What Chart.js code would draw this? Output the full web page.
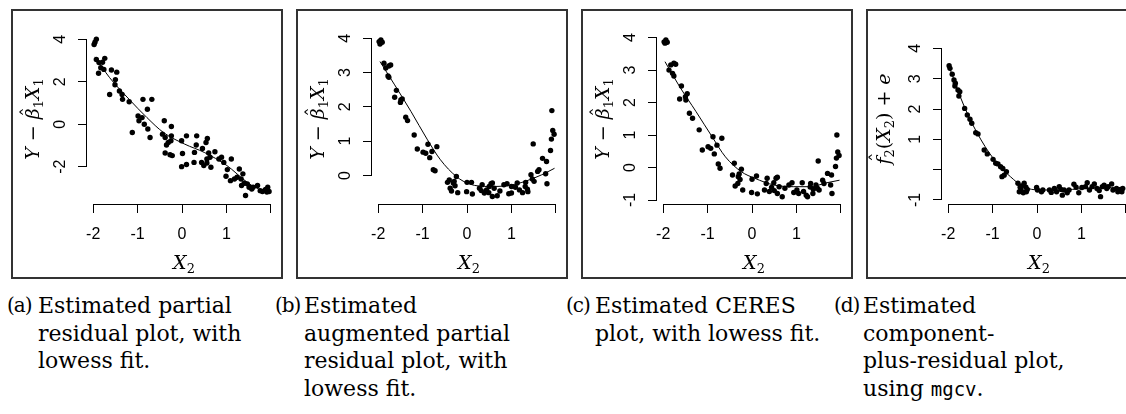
<!DOCTYPE html>
<html>
<head>
<meta charset="utf-8">
<script src="https://cdn.jsdelivr.net/npm/chart.js@4.4.0/dist/chart.umd.min.js"></script>
<style>
body { margin: 0; width: 1126px; height: 414px; overflow: hidden; background: #fff; position: relative; }
.panel { position: absolute; top: 9px; width: 272px; height: 270px; }
.panel canvas { position: absolute; left: 0; top: 0; }
.frame { position: absolute; left: 0; top: 0; width: 272px; height: 270px; border: 2px solid #333; box-sizing: border-box; pointer-events: none; }
.ytitle, .xtitle { position: absolute; font-family: "DejaVu Serif"; font-size: 19px; white-space: nowrap; color: #000; }
.ytitle { transform: translate(-50%, -50%) rotate(-90deg); }
.xtitle { transform: translate(-50%, -50%); }
.ytitle sub, .xtitle sub { font-size: 13px; vertical-align: -4px; line-height: 0; font-style: normal; }
.hat { position: relative; display: inline-block; }
.hat::after { content: "\02C6"; position: absolute; left: 50%; top: -0.12em; transform: translateX(-30%); font-style: normal; line-height: 1; }
.hat.tall::after { top: -0.22em; transform: translateX(-10%); }
.cap { position: absolute; top: 292px; font-family: "DejaVu Serif"; font-size: 22px; line-height: 27.7px; white-space: nowrap; color: #000; }
.lab { font-size: 20px; letter-spacing: -1px; }
.tt { font-family: "DejaVu Sans Mono"; font-size: 19px; }
</style>
</head>
<body>

<div class="panel" style="left:11px"><canvas id="pa" width="272" height="270"></canvas><div class="frame"></div>
  <div class="ytitle" style="left:21px;top:110px"><i>Y</i> − <i class="hat">β</i><sub>1</sub><i>X</i><sub>1</sub></div>
  <div class="xtitle" style="left:173px;top:253px"><i>X</i><sub>2</sub></div>
</div>
<div class="panel" style="left:296px"><canvas id="pb" width="272" height="270"></canvas><div class="frame"></div>
  <div class="ytitle" style="left:21px;top:110px"><i>Y</i> − <i class="hat">β</i><sub>1</sub><i>X</i><sub>1</sub></div>
  <div class="xtitle" style="left:173px;top:253px"><i>X</i><sub>2</sub></div>
</div>
<div class="panel" style="left:581px"><canvas id="pc" width="272" height="270"></canvas><div class="frame"></div>
  <div class="ytitle" style="left:21px;top:110px"><i>Y</i> − <i class="hat">β</i><sub>1</sub><i>X</i><sub>1</sub></div>
  <div class="xtitle" style="left:173px;top:253px"><i>X</i><sub>2</sub></div>
</div>
<div class="panel" style="left:866px"><canvas id="pd" width="272" height="270"></canvas><div class="frame"></div>
  <div class="ytitle" style="left:17px;top:110px"><i class="hat tall">f</i><sub>2</sub>(<i>X</i><sub>2</sub>) + <i>e</i></div>
  <div class="xtitle" style="left:173px;top:253px"><i>X</i><sub>2</sub></div>
</div>

<div class="cap lab" style="left:7px">(a)</div>
<div class="cap" style="left:38px">Estimated partial<br>residual plot, with<br>lowess fit.</div>
<div class="cap lab" style="left:275px">(b)</div>
<div class="cap" style="left:304px">Estimated<br>augmented partial<br>residual plot, with<br>lowess fit.</div>
<div class="cap lab" style="left:566px">(c)</div>
<div class="cap" style="left:595px">Estimated CERES<br>plot, with lowess fit.</div>
<div class="cap lab" style="left:834px">(d)</div>
<div class="cap" style="left:863px">Estimated<br>component-<br>plus-residual plot,<br>using <span class="tt">mgcv</span>.</div>

<script>
// shared x axis
var xTicks = [-2, -1, 0, 1, 2];
var xTickLabels = ["-2", "-1", "0", "1", ""];

// (a) partial residuals
var aX = [-1.98,-1.96,-1.93,-1.93,-1.87,-1.88,-1.83,-1.79,-1.76,-1.74,
  -1.59,-1.47,-1.50,-1.51,-1.63,-1.41,-1.35,-1.34,-1.19,
  -0.88,-0.68,-0.78,-0.99,-0.97,-0.90,-0.85,-0.77,-0.72,-1.12,
  -0.40,-0.24,-0.44,-0.38,-0.35,-0.31,-0.24,-0.38,-0.27,-0.22,-0.25,
  -0.01,0.10,0.01,-0.01,0.10,0.28,0.33,0.32,0.27,
  0.44,0.46,0.49,0.54,0.57,0.60,0.56,0.63,0.65,0.56,
  0.74,0.83,0.89,0.94,1.11,0.99,1.02,1.09,1.18,1.24,1.29,1.33,1.34,1.37,1.40,1.43,
  1.47,1.51,1.57,1.60,1.70,1.76,1.81,1.88,1.93,1.96,1.91];
var aY = [3.75,3.86,4.00,3.05,2.90,2.40,2.66,2.92,2.58,3.10,
  2.55,2.45,2.10,1.86,1.40,1.56,1.40,1.17,1.06,
  1.17,1.17,0.70,0.39,0.16,0.31,0.00,-0.23,-0.63,-0.39,
  0.16,-0.11,-0.47,-0.63,-0.98,-0.86,-0.55,-1.36,-1.44,-1.48,-0.78,
  -0.78,-0.55,-1.38,-2.00,-1.90,-1.33,-0.55,-0.98,-1.80,
  -1.80,-1.14,-1.95,-0.86,-0.67,-1.36,-1.64,-1.56,-2.03,-1.83,
  -1.30,-1.64,-1.56,-1.80,-1.64,-2.45,-2.14,-2.66,-2.58,-2.50,-2.11,-2.58,-2.89,-2.34,-2.78,-3.36,
  -2.81,-2.97,-3.05,-2.97,-2.89,-3.13,-3.17,-3.08,-2.97,-3.17,-3.20];
var aFitX = [-1.96,-1.63,-1.19,-0.79,-0.42,0.06,0.50,1.01,1.42,1.64,1.97];
var aFitY = [3.17,2.19,1.17,0.31,-0.39,-0.94,-1.33,-1.95,-2.66,-2.97,-3.20];
var aYTicks = [-2, 0, 2, 4];
var aYTickLabels = ["-2", "0", "2", "4"];

// (b) augmented partial residuals
var bX = [-1.98,-1.94,-1.91,-1.96,
  -1.87,-1.83,-1.76,-1.72,-1.78,-1.76,
  -1.59,-1.63,-1.49,-1.46,-1.50,-1.38,-1.34,-1.19,
  -1.12,-0.99,-0.93,-0.88,-0.84,-0.79,-0.68,-0.76,-0.72,
  -0.40,-0.44,-0.38,-0.31,-0.27,-0.24,-0.35,-0.21,-0.29,
  0.00,0.10,-0.01,0.12,0.28,0.34,0.32,0.39,0.44,0.50,0.49,0.54,0.57,0.61,0.57,0.68,0.74,
  0.83,0.90,0.94,1.00,1.00,1.09,1.13,1.18,1.25,1.31,1.32,1.37,1.36,
  1.44,1.47,1.51,1.49,1.59,1.62,1.70,1.79,1.80,1.77,1.88,1.90,1.93,1.96,1.91];
var bY = [3.90,3.95,3.88,3.83,
  3.27,3.13,3.19,3.22,2.90,2.86,
  2.48,2.28,2.20,2.23,2.13,1.70,1.60,1.18,
  0.77,0.68,0.65,0.91,0.52,0.70,0.84,0.17,0.14,
  -0.13,-0.20,-0.37,-0.22,-0.30,-0.03,-0.45,-0.50,-0.17,
  -0.20,-0.20,-0.47,-0.54,-0.37,-0.27,-0.44,-0.51,-0.42,-0.32,-0.50,-0.24,-0.22,-0.37,-0.61,-0.59,-0.45,
  -0.27,-0.24,-0.53,-0.32,-0.51,-0.34,-0.22,-0.42,-0.50,-0.32,-0.20,-0.47,-0.40,
  0.02,-0.10,-0.17,0.92,0.12,0.17,0.50,0.41,-0.24,0.05,0.73,1.06,1.31,1.20,1.89];
var bFitX = [-1.96,-1.63,-1.26,-0.90,-0.60,-0.24,0.06,0.50,0.94,1.31,1.68,1.97];
var bFitY = [3.32,2.64,1.86,1.06,0.46,-0.03,-0.25,-0.32,-0.29,-0.17,0.02,0.21];
var bYTicks = [0, 1, 2, 3, 4];
var bYTickLabels = ["0", "1", "2", "3", "4"];

// (c) CERES
var cX = [-1.98,-1.94,-1.91,-1.96,
  -1.87,-1.83,-1.76,-1.72,-1.79,-1.76,
  -1.59,-1.63,-1.49,-1.46,-1.50,-1.41,-1.34,-1.19,
  -1.12,-0.99,-0.93,-0.88,-0.85,-0.79,-0.68,-0.76,-0.72,
  -0.40,-0.44,-0.38,-0.31,-0.27,-0.24,-0.32,-0.21,-0.29,
  0.00,0.10,-0.01,0.12,0.28,0.34,0.32,0.39,0.44,0.50,0.49,0.54,0.57,0.61,0.57,0.68,0.74,
  0.83,0.90,0.94,1.01,1.05,1.13,1.16,1.22,1.25,1.31,1.32,1.37,1.38,
  1.44,1.47,1.51,1.49,1.59,1.62,1.70,1.79,1.80,1.77,1.88,1.90,1.93,1.96,1.91];
var cY = [3.87,3.93,3.86,3.83,
  3.00,3.16,3.21,3.18,2.90,2.82,
  2.51,2.11,2.08,2.27,2.18,1.67,1.52,1.16,
  0.54,0.64,0.59,0.95,0.42,0.69,0.90,0.11,-0.02,
  0.13,-0.23,-0.57,-0.28,-0.37,-0.05,-0.49,-0.69,-0.20,
  -0.36,-0.26,-0.77,-0.81,-0.69,-0.33,-0.49,-0.74,-0.61,-0.71,-0.47,-0.33,-0.30,-0.59,-0.80,-0.90,-0.64,
  -0.54,-0.47,-0.77,-0.69,-0.80,-0.47,-0.74,-0.85,-0.90,-0.60,-0.49,-0.80,-0.67,
  -0.54,-0.64,-0.69,0.20,-0.39,-0.49,-0.18,-0.23,-0.80,-0.54,0.03,0.29,0.48,0.37,1.00];
var cFitX = [-1.96,-1.63,-1.26,-0.90,-0.60,-0.24,0.06,0.50,0.94,1.31,1.68,1.97];
var cFitY = [3.26,2.49,1.72,0.95,0.33,-0.13,-0.33,-0.54,-0.59,-0.59,-0.47,-0.39];
var cYTicks = [-1, 0, 1, 2, 3, 4];
var cYTickLabels = ["-1", "0", "1", "2", "3", "4"];

// (d) component plus residual, gam smooth
var dX = [-1.98,-1.96,-1.91,-1.87,-1.84,-1.85,-1.78,-1.74,-1.76,-1.63,-1.57,-1.51,-1.47,-1.38,-1.33,
  -1.19,-1.12,-0.99,-0.93,-0.88,-0.82,-0.77,-0.74,-0.69,-0.79,
  -0.43,-0.38,-0.35,-0.29,-0.25,-0.24,-0.40,-0.31,-0.22,-0.36,
  -0.01,0.01,0.10,0.13,0.28,0.32,0.39,0.44,0.50,0.54,0.57,0.61,0.68,0.72,
  0.83,0.88,0.94,1.01,1.09,1.13,1.18,1.24,1.29,1.35,1.40,1.43,1.47,1.51,1.57,1.60,1.68,1.71,1.79,1.82,1.88,1.91,1.93];
var dY = [3.43,3.34,3.15,2.96,2.85,2.76,2.63,2.57,2.43,2.02,1.80,1.66,1.53,1.22,1.18,
  0.65,0.52,0.34,0.21,0.19,0.10,0.04,-0.18,-0.07,-0.23,
  -0.45,-0.58,-0.54,-0.45,-0.58,-0.73,-0.73,-0.76,-0.65,-0.67,
  -0.59,-0.67,-0.73,-0.67,-0.67,-0.75,-0.62,-0.73,-0.56,-0.65,-0.84,-0.67,-0.76,-0.67,
  -0.48,-0.58,-0.76,-0.59,-0.56,-0.43,-0.67,-0.56,-0.47,-0.62,-0.69,-0.89,-0.56,-0.51,-0.62,-0.56,-0.47,-0.67,-0.62,-0.73,-0.65,-0.73,-0.62];
var dFitX = [-1.98,-1.63,-1.26,-0.90,-0.60,-0.31,0.06,0.50,1.09,1.68,1.97];
var dFitY = [3.40,2.05,0.98,0.21,-0.23,-0.56,-0.67,-0.67,-0.62,-0.58,-0.62];
var dYTicks = [-1, 0, 1, 2, 3, 4];
var dYTickLabels = ["-1", "", "1", "2", "3", "4"];

function toPoints(xs, ys) {
  return xs.map(function (x, i) { return { x: x, y: ys[i] }; });
}

// base-graphics style axes: line only between first and last tick, rotated y labels
var rAxes = {
  id: "rAxes",
  afterDraw: function (chart, args, opts) {
    var ctx = chart.ctx, area = chart.chartArea;
    var xs = chart.scales.x, ys = chart.scales.y;
    ctx.save();
    ctx.strokeStyle = "#000";
    ctx.lineWidth = 1;
    ctx.beginPath();
    var by = Math.round(area.bottom) + 0.5;
    ctx.moveTo(xs.getPixelForValue(xs.ticks[0].value), by);
    ctx.lineTo(xs.getPixelForValue(xs.ticks[xs.ticks.length - 1].value), by);
    var lx = Math.round(area.left) - 0.5;
    ctx.moveTo(lx, ys.getPixelForValue(ys.ticks[0].value));
    ctx.lineTo(lx, ys.getPixelForValue(ys.ticks[ys.ticks.length - 1].value));
    ctx.stroke();

    ctx.fillStyle = "#000";
    ctx.font = '16px "Liberation Sans"';
    ctx.textAlign = "center";
    ctx.textBaseline = "middle";
    ys.ticks.forEach(function (t, i) {
      ctx.save();
      ctx.translate(area.left - 26, ys.getPixelForValue(t.value));
      ctx.rotate(-Math.PI / 2);
      ctx.fillText(opts.yLabels[i], 0, 0);
      ctx.restore();
    });
    ctx.restore();
  }
};

function drawPanel(id, xs, ys, fx, fy, yTicks, yLabels, yMin, yMax) {
  var grid = { drawOnChartArea: false, drawTicks: true, tickLength: 9, color: "#000", lineWidth: 1 };
  new Chart(document.getElementById(id), {
    type: "scatter",
    data: {
      datasets: [
        { data: toPoints(xs, ys), pointRadius: 2.7, pointBackgroundColor: "#000", pointBorderWidth: 0 },
        { data: toPoints(fx, fy), showLine: true, pointRadius: 0, borderColor: "#000", borderWidth: 1,
          cubicInterpolationMode: "monotone", fill: false }
      ]
    },
    options: {
      responsive: false,
      animation: false,
      events: [],
      layout: { padding: { top: 24, right: 1.5, left: 0, bottom: 0 } },
      plugins: { legend: { display: false }, tooltip: { enabled: false }, rAxes: { yLabels: yLabels } },
      scales: {
        x: {
          type: "linear", min: -2.14, max: 2.15,
          afterFit: function (s) { s.height = 75; },
          afterBuildTicks: function (s) { s.ticks = xTicks.map(function (v) { return { value: v }; }); },
          border: { display: false },
          grid: grid,
          ticks: {
            autoSkip: false, maxRotation: 0, padding: 12, color: "#000",
            font: { family: "Liberation Sans", size: 16 },
            callback: function (v, i) { return xTickLabels[i]; }
          }
        },
        y: {
          type: "linear", min: yMin, max: yMax,
          afterFit: function (s) { s.width = 76; },
          afterBuildTicks: function (s) { s.ticks = yTicks.map(function (v) { return { value: v }; }); },
          border: { display: false },
          grid: grid,
          ticks: { display: false }
        }
      }
    },
    plugins: [rAxes]
  });
}

drawPanel("pa", aX, aY, aFitX, aFitY, aYTicks, aYTickLabels, -3.76, 4.295);
drawPanel("pb", bX, bY, bFitX, bFitY, bYTicks, bYTickLabels, -0.83, 4.151);
drawPanel("pc", cX, cY, cFitX, cFitY, cYTicks, cYTickLabels, -1.123, 4.143);
drawPanel("pd", dX, dY, dFitX, dFitY, dYTicks, dYTickLabels, -1.132, 4.506);
</script>
</body>
</html>
